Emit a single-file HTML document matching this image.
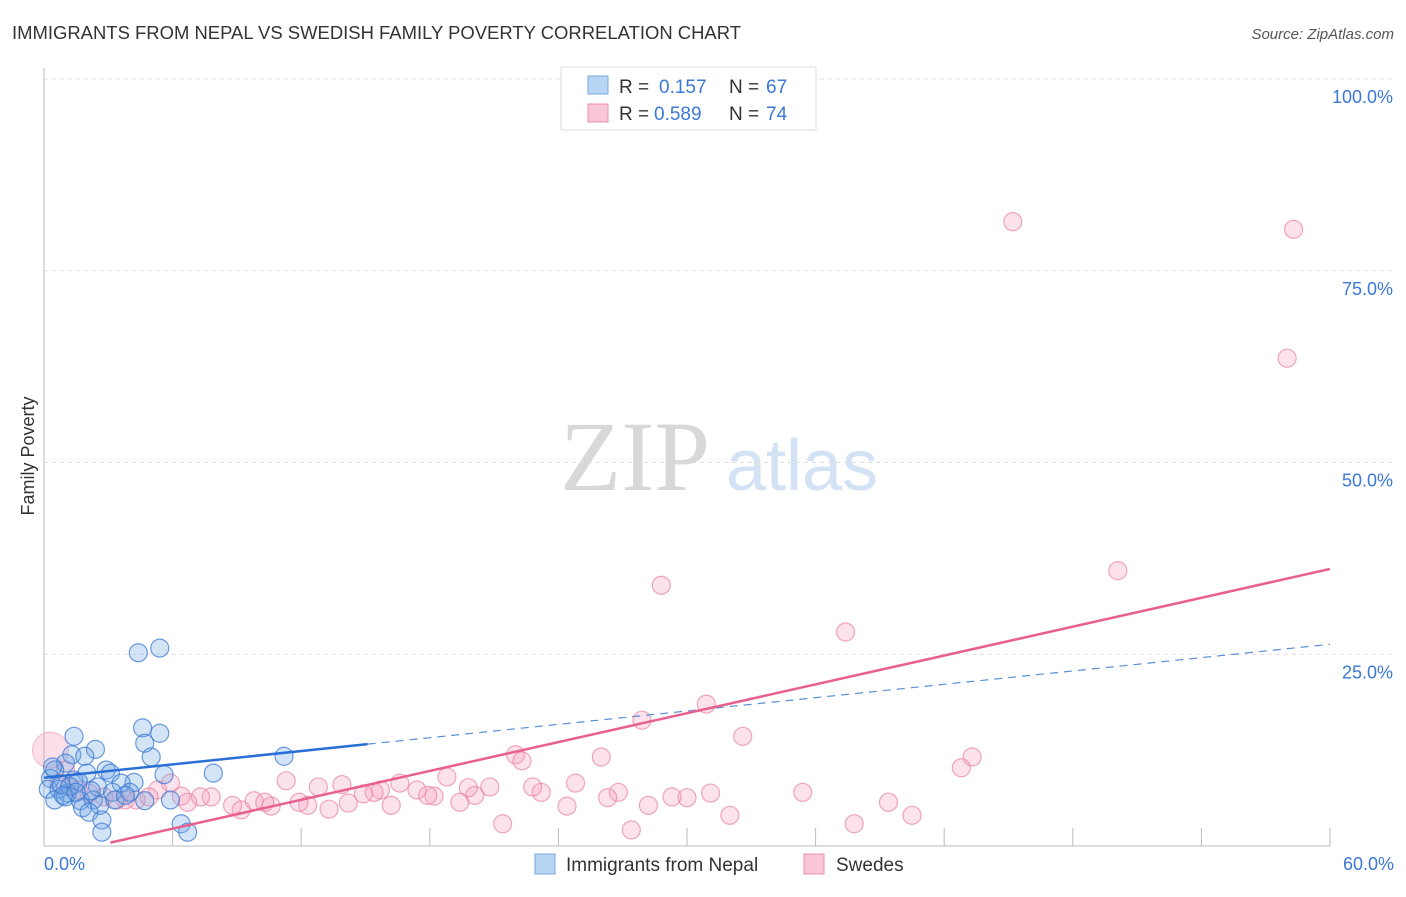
<!DOCTYPE html>
<html><head><meta charset="utf-8"><style>
body{margin:0;background:#fff;font-family:"Liberation Sans",sans-serif}
svg text{font-family:"Liberation Sans",sans-serif}
svg text.serif{font-family:"Liberation Serif",serif}
</style></head><body>
<svg width="1406" height="892" xmlns="http://www.w3.org/2000/svg">
<text x="12" y="39" font-size="18" fill="#333" textLength="729" lengthAdjust="spacingAndGlyphs">IMMIGRANTS FROM NEPAL VS SWEDISH FAMILY POVERTY CORRELATION CHART</text>
<text x="1394" y="39" font-size="15" fill="#555" font-style="italic" text-anchor="end">Source: ZipAtlas.com</text>
<text x="34" y="456" font-size="18" fill="#333" transform="rotate(-90 34 456)" text-anchor="middle">Family Poverty</text>
<g>
<text class="serif" x="635" y="490" font-size="100" fill="#d8d8d8" text-anchor="middle">ZIP</text>
<text x="802" y="490" font-size="72" fill="#d3e3f5" text-anchor="middle">atlas</text>
</g>
<g id="grid"></g><g id="axes"></g><g id="pts"></g><g id="lines"></g>
<g>
<rect x="561" y="67" width="255" height="63" fill="#fff" stroke="#ddd"/>
<rect x="588" y="76" width="20" height="18" fill="#b8d4f5" stroke="#7aa7e0"/>
<text x="619" y="93" font-size="19" fill="#333">R = </text><text x="659" y="93" font-size="19" fill="#3b78d8">0.157</text>
<text x="729" y="93" font-size="19" fill="#333">N = </text><text x="766" y="93" font-size="19" fill="#3b78d8">67</text>
<rect x="588" y="104" width="20" height="18" fill="#f9c6d6" stroke="#e890b0"/>
<text x="619" y="120" font-size="19" fill="#333">R = </text><text x="654" y="120" font-size="19" fill="#3b78d8">0.589</text>
<text x="729" y="120" font-size="19" fill="#333">N = </text><text x="766" y="120" font-size="19" fill="#3b78d8">74</text>
</g>
<g>
<rect x="535" y="854" width="20" height="20" fill="#b8d4f5" stroke="#7aa7e0"/>
<text x="566" y="871" font-size="19" fill="#333">Immigrants from Nepal</text>
<rect x="804" y="854" width="20" height="20" fill="#f9c6d6" stroke="#e890b0"/>
<text x="836" y="871" font-size="19" fill="#333">Swedes</text>
</g>
</svg>
<script>
const yTicks=[25,50,75,100];
const yTickLabels=["25.0%","50.0%","75.0%","100.0%"];
const xTickLabels=["0.0%","60.0%"];
const blueX=[4.4,5.4,4.6,5.4,4.7,5.0,11.2,1.4,2.4,1.3,1.9,1.0,2.9,3.1,5.6,7.9,4.2,3.6,2.0,2.5,3.2,4.0,0.5,0.3,0.2,0.7,1.1,1.4,0.5,1.0,1.7,2.3,2.6,1.8,2.1,2.7,2.7,4.7,5.9,6.4,6.7,3.3,0.4,0.8,1.2,1.6,2.2,0.9,1.5,3.8];
const blueY=[25.2,25.8,15.4,14.7,13.4,11.6,11.7,14.3,12.6,11.9,11.7,10.8,9.9,9.5,9.3,9.5,8.3,8.2,9.5,7.7,7.0,7.0,9.9,8.8,7.4,7.4,6.9,8.6,6.0,6.4,5.9,6.0,5.3,5.0,4.4,3.4,1.8,5.9,6.0,2.9,1.8,6.0,10.3,8.0,7.8,8.4,7.2,6.6,7.0,6.6];
const pinkX=[45.2,58.3,58.0,50.1,28.8,37.4,30.9,27.9,32.6,43.3,42.8,26.0,22.0,22.3,39.4,40.5,37.8,35.4,32.0,31.1,30.0,29.3,28.2,27.4,26.8,26.3,24.8,24.4,23.2,22.8,21.4,20.8,20.1,19.8,19.4,18.8,18.2,17.9,17.4,16.6,16.2,15.7,15.4,14.9,14.2,13.9,13.3,12.8,12.3,11.9,11.3,10.6,10.3,9.8,9.2,8.8,7.8,7.3,6.7,6.4,5.9,5.3,4.9,4.3,3.8,3.4,2.8,2.1,1.6,1.2,1.0,0.7];
const pinkY=[81.4,80.4,63.6,35.9,34.0,27.9,18.5,16.4,14.3,11.6,10.2,11.6,11.9,11.1,5.7,4.0,2.9,7.0,4.0,6.9,6.3,6.4,5.3,2.1,7.0,6.3,8.2,5.2,7.0,7.7,2.9,7.7,6.6,7.6,5.7,9.0,6.5,6.6,7.3,8.2,5.3,7.3,7.0,6.8,5.6,8.0,4.8,7.7,5.3,5.7,8.5,5.2,5.7,5.9,4.7,5.3,6.4,6.4,5.7,6.5,8.2,7.3,6.4,6.0,6.0,6.0,6.4,6.9,7.3,7.7,9.9,8.2];
const blueLine=[8.9,0.29,15.1];
const pinkLine=[-1.5,0.627,3.1];
const X0=44,X1=1330,Y0=846,Y100=79;
const sx=v=>X0+v/60*(X1-X0), sy=v=>Y0-v/100*(Y0-Y100);
const NS="http://www.w3.org/2000/svg";
function mk(par,tag,at){const e=document.createElementNS(NS,tag);for(const k in at)e.setAttribute(k,at[k]);document.getElementById(par).appendChild(e);return e;}
yTicks.forEach((t,i)=>{
 const l=mk('grid','line',{x1:X0,x2:1395,y1:sy(t),y2:sy(t),stroke:'#ddd','stroke-dasharray':'4 4'});
 
 
 const tx=mk('grid','text',{x:1393,y:sy(t)+24,'font-size':18,fill:'#3b78d8','text-anchor':'end'});
 tx.textContent=yTickLabels[i];
 
 
});
let a=mk('axes','line',{x1:X0,x2:X0,y1:68,y2:Y0,stroke:'#bbb'});


a=mk('axes','line',{x1:X0,x2:X1,y1:Y0,y2:Y0,stroke:'#bbb'});


for(let i=1;i<=10;i++){const t=mk('axes','line',{x1:sx(i*6),x2:sx(i*6),y1:Y0,y2:Y0-18,stroke:'#bbb'});
 
 }
[[0,'start',44],[60,'end',1394]].forEach((d,i)=>{const t=mk('axes','text',{x:d[2],y:870,'font-size':18,fill:'#3b78d8','text-anchor':d[1]});t.textContent=xTickLabels[i];
 
 });
let big=mk('pts','circle',{cx:sx(0.3),cy:sy(12.5),r:18,fill:'rgba(240,150,180,0.3)',stroke:'rgba(232,130,165,0.5)'});


pinkX.forEach((x,i)=>{const c=mk('pts','circle',{cx:sx(x),cy:sy(pinkY[i]),r:9,fill:'rgba(245,160,190,0.3)',stroke:'rgba(232,130,165,0.7)','stroke-width':1.2});
 
 });
blueX.forEach((x,i)=>{const c=mk('pts','circle',{cx:sx(x),cy:sy(blueY[i]),r:9,fill:'rgba(110,165,230,0.3)',stroke:'rgba(60,120,210,0.75)','stroke-width':1.2});
 
 });
const bl=v=>blueLine[0]+blueLine[1]*v, pl=v=>pinkLine[0]+pinkLine[1]*v;
let l=mk('lines','line',{x1:sx(0),y1:sy(bl(0)),x2:sx(blueLine[2]),y2:sy(bl(blueLine[2])),stroke:'#2a6fd6','stroke-width':2.5});


l=mk('lines','line',{x1:sx(blueLine[2]),y1:sy(bl(blueLine[2])),x2:sx(60),y2:sy(bl(60)),stroke:'#5a8fd8','stroke-width':1.2,'stroke-dasharray':'8 6'});


l=mk('lines','line',{x1:sx(pinkLine[2]),y1:sy(pl(pinkLine[2])),x2:sx(60),y2:sy(pl(60)),stroke:'#e8608f','stroke-width':2.5});


</script>
</body></html>
